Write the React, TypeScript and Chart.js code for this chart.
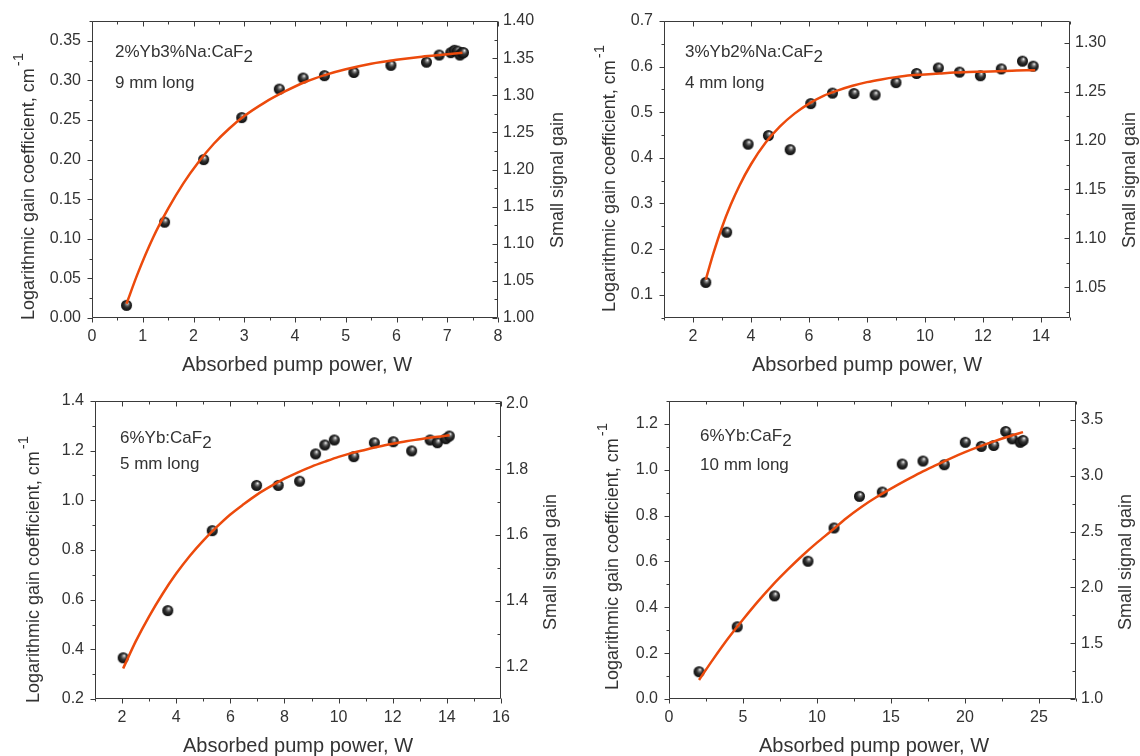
import React, { useEffect, useRef } from "react";
import { Chart, registerables } from "chart.js";
Chart.register(...registerables);

const FONT = '"Liberation Sans", Arial, Helvetica, sans-serif';
const TEXT = "#333333";
const AXIS = "#3a3a3a";
const FIT = "#ec4a0c";

// ---------- Panel 1: 2%Yb3%Na:CaF2, 9 mm ----------
const p1Power = [0.68, 1.43, 2.2, 2.95, 3.69, 4.16, 4.58, 5.16, 5.89, 6.59, 6.84, 7.07, 7.14, 7.2, 7.25, 7.29, 7.32];
const p1Gain = [0.016, 0.121, 0.2, 0.253, 0.289, 0.303, 0.306, 0.31, 0.319, 0.323, 0.332, 0.335, 0.338, 0.337, 0.332, 0.335, 0.335];
const p1FitPower = [0.68, 0.9, 1.2, 1.5, 1.8, 2.1, 2.4, 2.7, 3.0, 3.4, 3.8, 4.2, 4.6, 5.0, 5.5, 6.0, 6.5, 7.0, 7.3];
const p1FitGain = [0.018, 0.056, 0.101, 0.138, 0.17, 0.197, 0.22, 0.239, 0.255, 0.272, 0.286, 0.298, 0.307, 0.314, 0.321, 0.326, 0.33, 0.333, 0.335];
const p1XTicks = ["0", "1", "2", "3", "4", "5", "6", "7", "8"];
const p1YTicks = ["0.00", "0.05", "0.10", "0.15", "0.20", "0.25", "0.30", "0.35"];
const p1Y2Ticks = ["1.00", "1.05", "1.10", "1.15", "1.20", "1.25", "1.30", "1.35", "1.40"];

// ---------- Panel 2: 3%Yb2%Na:CaF2, 4 mm ----------
const p2Power = [2.44, 3.16, 3.9, 4.6, 5.35, 6.06, 6.81, 7.55, 8.28, 9.0, 9.71, 10.46, 11.19, 11.91, 12.63, 13.36, 13.73];
const p2Gain = [0.127, 0.237, 0.43, 0.449, 0.418, 0.519, 0.542, 0.541, 0.538, 0.565, 0.585, 0.597, 0.588, 0.58, 0.595, 0.612, 0.601];
const p2FitPower = [2.44, 2.7, 3.0, 3.3, 3.6, 4.0, 4.5, 5.0, 5.5, 6.0, 6.5, 7.0, 7.5, 8.0, 8.5, 9.0, 9.5, 10.0, 10.5, 11.0, 11.5, 12.0, 12.5, 13.0, 13.5, 13.8];
const p2FitGain = [0.133, 0.19, 0.248, 0.297, 0.339, 0.386, 0.433, 0.469, 0.497, 0.519, 0.536, 0.548, 0.558, 0.566, 0.572, 0.577, 0.581, 0.583, 0.585, 0.587, 0.588, 0.589, 0.59, 0.591, 0.592, 0.592];
const p2XTicks = ["2", "4", "6", "8", "10", "12", "14"];
const p2YTicks = ["0.1", "0.2", "0.3", "0.4", "0.5", "0.6", "0.7"];
const p2Y2Ticks = ["1.05", "1.10", "1.15", "1.20", "1.25", "1.30"];

// ---------- Panel 3: 6%Yb:CaF2, 5 mm ----------
const p3Power = [2.04, 3.69, 5.33, 6.97, 7.77, 8.56, 9.15, 9.49, 9.84, 10.56, 11.32, 12.02, 12.7, 13.38, 13.65, 13.96, 14.09];
const p3Gain = [0.366, 0.556, 0.878, 1.06, 1.06, 1.077, 1.187, 1.223, 1.243, 1.176, 1.232, 1.236, 1.199, 1.243, 1.232, 1.248, 1.259];
const p3FitPower = [2.04, 2.5, 3.0, 3.5, 4.0, 4.5, 5.0, 5.5, 6.0, 6.5, 7.0, 7.5, 8.0, 8.5, 9.0, 9.5, 10.0, 10.5, 11.0, 11.5, 12.0, 12.5, 13.0, 13.5, 14.1];
const p3FitGain = [0.323, 0.431, 0.533, 0.624, 0.705, 0.776, 0.838, 0.893, 0.943, 0.985, 1.024, 1.057, 1.087, 1.113, 1.136, 1.156, 1.175, 1.191, 1.204, 1.217, 1.228, 1.238, 1.246, 1.254, 1.262];
const p3XTicks = ["2", "4", "6", "8", "10", "12", "14", "16"];
const p3YTicks = ["0.2", "0.4", "0.6", "0.8", "1.0", "1.2", "1.4"];
const p3Y2Ticks = ["1.2", "1.4", "1.6", "1.8", "2.0"];

// ---------- Panel 4: 6%Yb:CaF2, 10 mm ----------
const p4Power = [2.03, 4.61, 7.13, 9.39, 11.15, 12.87, 14.41, 15.76, 17.16, 18.6, 20.02, 21.1, 21.94, 22.75, 23.19, 23.73, 23.92];
const p4Gain = [0.119, 0.315, 0.45, 0.601, 0.746, 0.884, 0.903, 1.025, 1.038, 1.022, 1.12, 1.102, 1.106, 1.167, 1.135, 1.12, 1.128];
const p4FitPower = [2.03, 3, 4, 5, 6, 7, 8, 9, 10, 11, 12, 13, 14, 15, 16, 17, 18, 19, 20, 21, 22, 23, 23.92];
const p4FitGain = [0.083, 0.175, 0.265, 0.347, 0.425, 0.497, 0.563, 0.625, 0.682, 0.735, 0.79, 0.838, 0.88, 0.918, 0.954, 0.988, 1.019, 1.049, 1.077, 1.102, 1.125, 1.146, 1.164];
const p4XTicks = ["0", "5", "10", "15", "20", "25"];
const p4YTicks = ["0.0", "0.2", "0.4", "0.6", "0.8", "1.0", "1.2"];
const p4Y2Ticks = ["1.0", "1.5", "2.0", "2.5", "3.0", "3.5"];

interface PanelSpec {
  left: number; top: number;
  plot: { l: number; t: number; r: number; b: number };
  x: [number, number]; y: [number, number]; y2: [number, number];
  xTicks: string[]; yTicks: string[]; y2Ticks: string[];
  xMinor: number; yMinor: number; y2Minor: number;
  px: number[]; py: number[]; fx: number[]; fy: number[];
  label1: string; label2: string;
  annX: number; annY1: number; annY2: number;
  xTitle: [number, number]; yTitle: [number, number]; y2Title: [number, number];
}

const W = 570;
const H = 378;

const panels: PanelSpec[] = [
  {
    left: 0, top: 0, plot: { l: 92, t: 21, r: 498, b: 318 },
    x: [0, 8], y: [0, 0.375], y2: [1.0, 1.4],
    xTicks: p1XTicks, yTicks: p1YTicks, y2Ticks: p1Y2Ticks,
    xMinor: 0.5, yMinor: 0.025, y2Minor: 0.025,
    px: p1Power, py: p1Gain, fx: p1FitPower, fy: p1FitGain,
    label1: "2%Yb3%Na:CaF", label2: "9 mm long",
    annX: 115, annY1: 57, annY2: 88,
    xTitle: [297, 365], yTitle: [29, 320], y2Title: [558, 248],
  },
  {
    left: 570, top: 0, plot: { l: 94, t: 21, r: 500, b: 318 },
    x: [1, 15], y: [0.049, 0.7], y2: [1.0184, 1.3221],
    xTicks: p2XTicks, yTicks: p2YTicks, y2Ticks: p2Y2Ticks,
    xMinor: 1, yMinor: 0.05, y2Minor: 0.025,
    px: p2Power, py: p2Gain, fx: p2FitPower, fy: p2FitGain,
    label1: "3%Yb2%Na:CaF", label2: "4 mm long",
    annX: 115, annY1: 57, annY2: 88,
    xTitle: [297, 365], yTitle: [40, 312], y2Title: [560, 248],
  },
  {
    left: 0, top: 378, plot: { l: 95, t: 23, r: 501, b: 321 },
    x: [1, 16], y: [0.2, 1.4], y2: [1.102, 2.007],
    xTicks: p3XTicks, yTicks: p3YTicks, y2Ticks: p3Y2Ticks,
    xMinor: 1, yMinor: 0.1, y2Minor: 0.1,
    px: p3Power, py: p3Gain, fx: p3FitPower, fy: p3FitGain,
    label1: "6%Yb:CaF", label2: "5 mm long",
    annX: 120, annY1: 65, annY2: 91,
    xTitle: [298, 368], yTitle: [34, 325], y2Title: [551, 252],
  },
  {
    left: 570, top: 378, plot: { l: 99, t: 23, r: 506, b: 321 },
    x: [0, 27.5], y: [0, 1.3], y2: [1.0, 3.669],
    xTicks: p4XTicks, yTicks: p4YTicks, y2Ticks: p4Y2Ticks,
    xMinor: 2.5, yMinor: 0.1, y2Minor: 0.25,
    px: p4Power, py: p4Gain, fx: p4FitPower, fy: p4FitGain,
    label1: "6%Yb:CaF", label2: "10 mm long",
    annX: 130, annY1: 63, annY2: 92,
    xTitle: [304, 368], yTitle: [43, 312], y2Title: [556, 252],
  },
];

function makeSphere(r: number): HTMLCanvasElement {
  const s = Math.ceil(r * 2) + 2;
  const c = document.createElement("canvas");
  c.width = s;
  c.height = s;
  const g = c.getContext("2d")!;
  const cx = s / 2;
  const cy = s / 2;
  const grad = g.createRadialGradient(cx + r * 0.2, cy - r * 0.42, 0.3, cx, cy, r);
  grad.addColorStop(0, "#f2f2f2");
  grad.addColorStop(0.2, "#8c8c8c");
  grad.addColorStop(0.5, "#333333");
  grad.addColorStop(1, "#0a0a0a");
  g.fillStyle = grad;
  g.beginPath();
  g.arc(cx, cy, r, 0, Math.PI * 2);
  g.fill();
  return c;
}

function tickAxis(labels: string[], range: [number, number], position: string, padding: number, size: (s: any) => void) {
  const vals = labels.map(Number);
  return {
    type: "linear" as const,
    position,
    min: range[0],
    max: range[1],
    afterBuildTicks: (s: any) => {
      s.ticks = vals.map((v) => ({ value: v }));
    },
    afterFit: size,
    grid: { display: false, drawTicks: false },
    border: { display: false },
    title: { display: false },
    ticks: {
      autoSkip: false,
      maxRotation: 0,
      padding,
      color: TEXT,
      font: { family: FONT, size: 16 },
      callback: (v: any) => {
        const i = vals.findIndex((t) => Math.abs(t - Number(v)) < 1e-9);
        return i >= 0 ? labels[i] : "";
      },
    },
  };
}

function minorValues(min: number, max: number, step: number, majors: number[]): number[] {
  const out: number[] = [];
  const start = Math.ceil(min / step - 1e-9);
  for (let k = start; k * step <= max + 1e-9; k++) {
    const v = k * step;
    if (!majors.some((m) => Math.abs(m - v) < 1e-9)) out.push(v);
  }
  return out;
}

function decorPlugin(p: PanelSpec) {
  return {
    id: "decor",
    afterDraw(chart: any) {
      const { ctx, chartArea: a, scales } = chart;
      const xs = scales.x;
      const ys = scales.y;
      const y2s = scales.y2;
      const L = Math.round(a.left) + 0.5;
      const R = Math.round(a.right) - 0.5;
      const T = Math.round(a.top) + 0.5;
      const B = Math.round(a.bottom) - 0.5;
      ctx.save();
      ctx.strokeStyle = AXIS;
      ctx.lineWidth = 1;
      ctx.beginPath();
      ctx.rect(L, T, R - L, B - T);
      const MAJ = 5;
      const MIN = 3;
      const xMaj = p.xTicks.map(Number);
      const xMin = minorValues(p.x[0], p.x[1], p.xMinor, xMaj);
      const line = (x1: number, y1: number, x2: number, y2: number) => {
        ctx.moveTo(x1, y1);
        ctx.lineTo(x2, y2);
      };
      xMaj.forEach((v) => {
        const X = Math.round(xs.getPixelForValue(v)) + 0.5;
        line(X, B, X, B + MAJ);
        line(X, T, X, T + MAJ);
      });
      xMin.forEach((v) => {
        const X = Math.round(xs.getPixelForValue(v)) + 0.5;
        line(X, B, X, B + MIN);
        line(X, T, X, T + MIN);
      });
      const yMaj = p.yTicks.map(Number);
      minorValues(p.y[0], p.y[1], p.yMinor, yMaj).forEach((v) => {
        const Y = Math.round(ys.getPixelForValue(v)) + 0.5;
        line(L, Y, L - MIN, Y);
      });
      yMaj.forEach((v) => {
        const Y = Math.round(ys.getPixelForValue(v)) + 0.5;
        line(L, Y, L - MAJ, Y);
      });
      const y2Maj = p.y2Ticks.map(Number);
      minorValues(p.y2[0], p.y2[1], p.y2Minor, y2Maj).forEach((v) => {
        const Y = Math.round(y2s.getPixelForValue(v)) + 0.5;
        line(R, Y, R - MIN, Y);
      });
      y2Maj.forEach((v) => {
        const Y = Math.round(y2s.getPixelForValue(v)) + 0.5;
        line(R, Y, R - MAJ, Y);
      });
      ctx.stroke();

      ctx.fillStyle = TEXT;
      // annotation
      ctx.font = `17px ${FONT}`;
      ctx.textAlign = "left";
      ctx.textBaseline = "alphabetic";
      ctx.fillText(p.label1, p.annX, p.annY1);
      const w1 = ctx.measureText(p.label1).width;
      ctx.fillText("2", p.annX + w1, p.annY1 + 5);
      ctx.fillText(p.label2, p.annX, p.annY2);

      // x title
      ctx.font = `20px ${FONT}`;
      ctx.textAlign = "center";
      ctx.textBaseline = "middle";
      ctx.fillText("Absorbed pump power, W", p.xTitle[0], p.xTitle[1]);

      // left title
      ctx.save();
      ctx.translate(p.yTitle[0], p.yTitle[1]);
      ctx.rotate(-Math.PI / 2);
      ctx.font = `18px ${FONT}`;
      ctx.textAlign = "left";
      ctx.textBaseline = "middle";
      const main = "Logarithmic gain coefficient, cm";
      ctx.fillText(main, 0, 0);
      const wm = ctx.measureText(main).width;
      ctx.font = `15px ${FONT}`;
      ctx.fillText("-1", wm + 2, -10);
      ctx.restore();

      // right title
      ctx.save();
      ctx.translate(p.y2Title[0], p.y2Title[1]);
      ctx.rotate(-Math.PI / 2);
      ctx.font = `18px ${FONT}`;
      ctx.textAlign = "left";
      ctx.textBaseline = "middle";
      ctx.fillText("Small signal gain", 0, 0);
      ctx.restore();

      ctx.restore();
    },
  };
}

export default function App() {
  const refs = useRef<(HTMLCanvasElement | null)[]>([]);

  useEffect(() => {
    const sphere = makeSphere(5.5);
    const charts = panels.map((p, idx) => {
      const canvas = refs.current[idx]!;
      const cfg: any = {
        type: "scatter",
        data: {
          datasets: [
            {
              type: "line",
              data: p.fx.map((x, i) => ({ x, y: p.fy[i] })),
              borderColor: FIT,
              borderWidth: 2.5,
              pointRadius: 0,
              fill: false,
              showLine: true,
              cubicInterpolationMode: "monotone",
              xAxisID: "x",
              yAxisID: "y",
            },
            {
              type: "scatter",
              data: p.px.map((x, i) => ({ x, y: p.py[i] })),
              pointStyle: sphere,
              pointRadius: 6,
              xAxisID: "x",
              yAxisID: "y",
            },
          ],
        },
        options: {
          responsive: false,
          animation: false,
          devicePixelRatio: 1,
          events: [],
          layout: { padding: { top: p.plot.t, left: 0, right: 0, bottom: 0 } },
          plugins: { legend: { display: false }, tooltip: { enabled: false } },
          scales: {
            x: tickAxis(p.xTicks, p.x, "bottom", 9, (s: any) => { s.height = H - p.plot.b; }),
            y: tickAxis(p.yTicks, p.y, "left", 11, (s: any) => { s.width = p.plot.l; }),
            y2: tickAxis(p.y2Ticks, p.y2, "right", 5, (s: any) => { s.width = W - p.plot.r; }),
          },
        },
        plugins: [decorPlugin(p)],
      };
      return new Chart(canvas, cfg);
    });
    return () => charts.forEach((c) => c.destroy());
  }, []);

  return (
    <div style={{ position: "fixed", left: 0, top: 0, width: 1140, height: 756, background: "#ffffff" }}>
      {panels.map((p, i) => (
        <canvas
          key={i}
          ref={(el) => { refs.current[i] = el; }}
          width={W}
          height={H}
          style={{ position: "absolute", left: p.left, top: p.top, width: W, height: H }}
        />
      ))}
    </div>
  );
}
